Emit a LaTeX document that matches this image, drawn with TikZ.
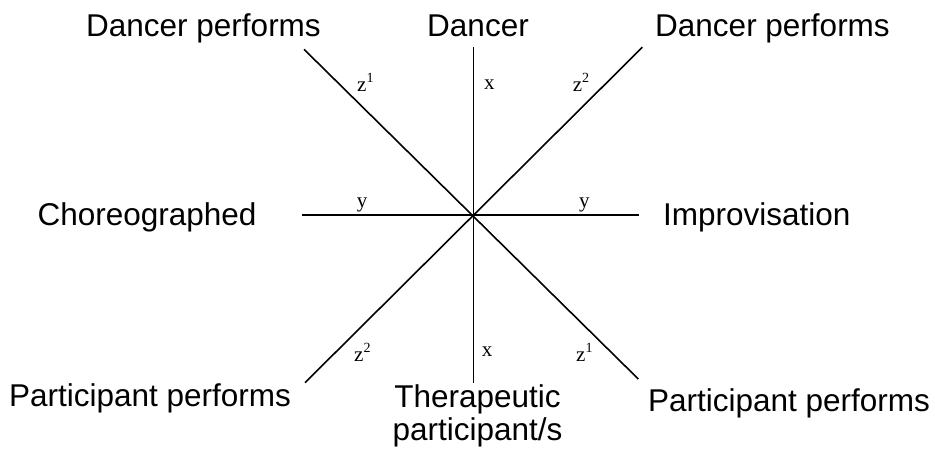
\documentclass[tikz,border=0pt]{standalone}
\usepackage{fontspec}
\setmainfont{Liberation Sans}
\newfontfamily\smallserif{Liberation Serif}
\newcommand{\zsup}[1]{z\raisebox{0.42em}{\fontsize{14}{14}\selectfont #1}}
\begin{document}
\begin{tikzpicture}[x=1pt,y=-1pt,
  axisline/.style={line width=1.6pt, black},
  biglabel/.style={font=\fontsize{31.5}{33}\selectfont, inner sep=0pt, anchor=base},
  smalllabel/.style={font=\smallserif\fontsize{21}{23}\selectfont, inner sep=0pt, anchor=base west},
]
\useasboundingbox (0,0) rectangle (935,452);
% axis end points
\coordinate (c) at (473.3,215);
\coordinate (top) at (473.3,46.7);
\coordinate (bot) at (473.3,382.7);
\coordinate (lft) at (302.3,215);
\coordinate (rgt) at (639.3,215);
\coordinate (tl) at (304,49.3);
\coordinate (tr) at (642.3,47.3);
\coordinate (bl) at (305,382.7);
\coordinate (br) at (638.3,379);
% axes
\draw[axisline] (top) -- (bot);
\draw[axisline] (lft) -- (rgt);
\draw[axisline] (tl) -- (br);
\draw[axisline] (tr) -- (bl);
% small axis labels
\node[smalllabel] (z1a) at (357,91.5) {\zsup{1}};
\node[smalllabel] (xa) at (484,89) {x};
\node[smalllabel] (z2a) at (572.7,91.5) {\zsup{2}};
\node[smalllabel] (ya) at (356.7,207) {y};
\node[smalllabel] (yb) at (579,207) {y};
\node[smalllabel] (z2b) at (354,361.5) {\zsup{2}};
\node[smalllabel] (xb) at (481.7,356.5) {x};
\node[smalllabel] (z1b) at (576,361.5) {\zsup{1}};
% big labels
\node[biglabel] (dpl) at (203.5,36.7) {Dancer performs};
\node[biglabel] (dancer) at (478,36.7) {Dancer};
\node[biglabel] (dpr) at (772.5,36.7) {Dancer performs};
\node[biglabel] (chor) at (147,225) {Choreographed};
\node[biglabel] (impro) at (756.7,225) {Improvisation};
\node[biglabel] (ppl) at (150,406.7) {Participant performs};
\node[biglabel] (ppr) at (789,411.7) {Participant performs};
\node[biglabel, align=center] (ther) at (477.5,440.3) {Therapeutic\\participant/s};
\end{tikzpicture}
\end{document}
